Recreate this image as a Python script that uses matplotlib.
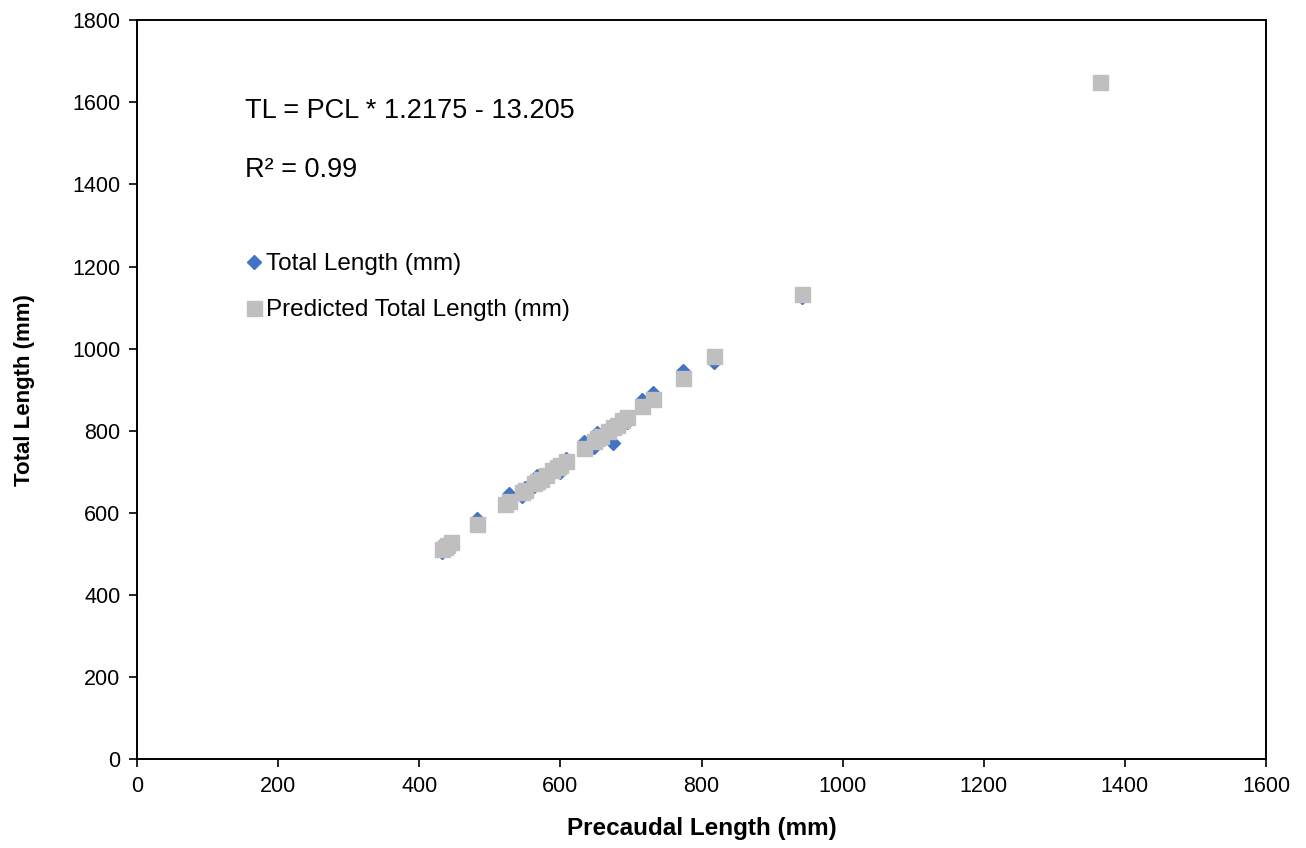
import numpy as np
import matplotlib
matplotlib.use("Agg")
import matplotlib.pyplot as plt

plt.rcParams["font.family"] = ["Liberation Sans", "DejaVu Sans"]

# valores (mm)
precaudal = [432, 436, 440, 445, 482, 522, 527, 545, 550, 563, 567, 572,
             580, 588, 595, 600, 608, 633, 648, 652, 658, 668, 674, 680,
             688, 695, 716, 731, 774, 817, 942, 1365]
total = [505, 515, 510, 525, 585, 628, 645, 642, 660, 665, 690, 675,
         685, 700, 715, 700, 730, 772, 760, 795, 790, 805, 770, 815,
         825, 820, 875, 892, 945, 968, 1125, 1648]
predicho = [512, 517, 522, 528, 573, 622, 628, 650, 656, 672, 677, 683,
            693, 703, 711, 717, 727, 758, 776, 781, 788, 800, 808, 815,
            825, 833, 859, 877, 929, 981, 1134, 1649]

ecuacion = "TL = PCL * 1.2175 - 13.205"
r2 = "R\u00b2 = 0.99"

fig = plt.figure(figsize=(13.06, 8.48), dpi=100)
ax = fig.add_axes([0.1049, 0.105, 0.8645, 0.871])

ax.plot(precaudal, total, linestyle="none", marker="D", markersize=7.2,
        color="#4472C4", label="Total Length (mm)")
ax.plot(precaudal, predicho, linestyle="none", marker="s", markersize=10.8,
        color="#BFBFBF", label="Predicted Total Length (mm)")

ax.set_xlim(0, 1600)
ax.set_ylim(0, 1800)
ax.set_xticks(np.arange(0, 1601, 200))
ax.set_yticks(np.arange(0, 1801, 200))
ax.tick_params(labelsize=15.5, direction="out", length=6, width=1.2,
               colors="black", pad=6)
for s in ax.spines.values():
    s.set_linewidth(1.4)
    s.set_color("black")

ax.set_xlabel("Precaudal Length (mm)", fontsize=17.5, fontweight="bold",
              labelpad=15)
ax.set_ylabel("Total Length (mm)", fontsize=16, fontweight="bold",
              labelpad=27)

ax.text(0.096, 0.877, ecuacion, transform=ax.transAxes, fontsize=19.5,
        va="center", ha="left")
ax.text(0.096, 0.797, r2, transform=ax.transAxes, fontsize=19.5,
        va="center", ha="left")

ax.legend(loc="upper left", bbox_to_anchor=(0.085, 0.698), frameon=False,
          fontsize=17.5, handletextpad=0.05, handlelength=0.9,
          labelspacing=1.0, borderaxespad=0)

fig.savefig("out.png", dpi=100)
